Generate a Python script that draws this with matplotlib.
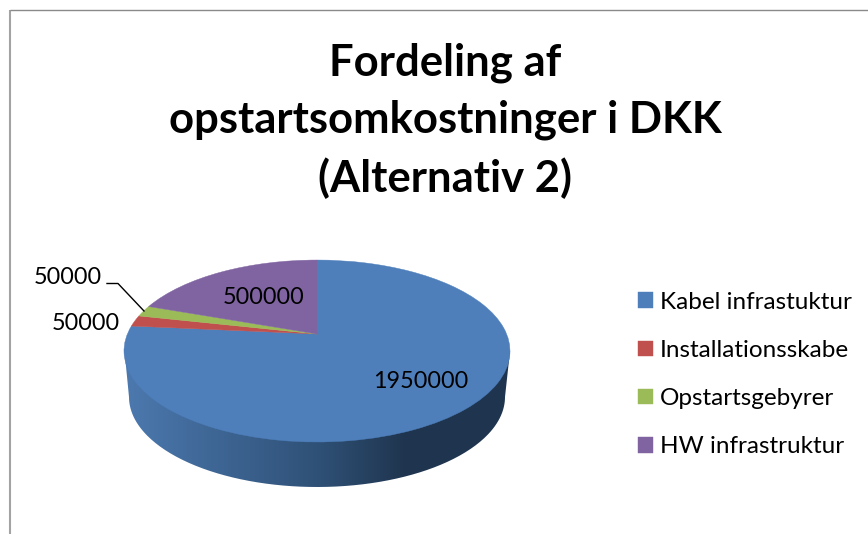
import numpy as np
import matplotlib
matplotlib.use("Agg")
import matplotlib.pyplot as plt
from matplotlib.colors import LinearSegmentedColormap
from matplotlib.path import Path
from matplotlib.transforms import Transform

categories = ["Kabel infrastuktur", "Installationsskabe", "Opstartsgebyrer", "HW infrastruktur"]
values = [1950000, 50000, 50000, 500000]
colors = ["#4E7FBB", "#C0504D", "#9BBB59", "#8064A2"]
title = "Fordeling af\nopstartsomkostninger i DKK\n(Alternativ 2)"

plt.rcParams["font.family"] = ["Lato", "DejaVu Sans"]
W, H = 868, 534
fig = plt.figure(figsize=(W / 100, H / 100), dpi=100, facecolor="white")
ax = fig.add_axes([0, 0, 1, 1])


class PiePerspective(Transform):
    """Tilts the unit pie: nearer edge lower and larger than the far edge."""
    input_dims = output_dims = 2
    is_separable = False
    has_inverse = False
    k, a, b, cx, cy = 0.187, 189.6, 87.8, 317.0, 334.0

    def transform_non_affine(self, xy):
        xy = np.asarray(xy, dtype=float)
        w = 1 + self.k * xy[:, 1]
        return np.column_stack((self.cx + self.a * xy[:, 0] / w,
                                self.cy - self.b * xy[:, 1] / w))


wedges, _ = ax.pie(values, colors=colors, startangle=90, counterclock=False, frame=True,
                   wedgeprops=dict(linewidth=0.3))
ax.set_aspect("auto")
for w in wedges:
    w.set_edgecolor(w.get_facecolor())
    w.set_transform(PiePerspective() + ax.transData)

# side wall of the pie with its horizontal shading
t = np.linspace(np.pi, 0, 200)
wall = np.vstack(([[124.5, 351], [129, 397]],
                  np.column_stack((317 + 188 * np.cos(t), 397 + 90 * np.sin(t))),
                  [[510, 351], [124.5, 351]]))
cmap = LinearSegmentedColormap.from_list("wall", [(0, "#4C79AF"), (0.5, "#2F5177"),
                                                  (0.72, "#203650"), (1, "#1F344E")])
im = ax.imshow(np.linspace(0, 1, 256)[None, :], cmap=cmap, aspect="auto",
               extent=(124, 511, 488, 350), zorder=0, interpolation="bilinear")
im.set_clip_path(Path(wall), transform=ax.transData)

ax.set_xlim(0, W)
ax.set_ylim(H, 0)
ax.axis("off")

# chart border
ax.plot([10, 10], [534, 9.5], color="#A3A3A3", lw=1.5, solid_capstyle="butt", zorder=3)
ax.plot([10, 868], [9.5, 9.5], color="#8A8A8A", lw=1, solid_capstyle="butt", zorder=3)

ax.text(445.5, 121, title, ha="center", va="center", fontsize=31.4, fontweight="bold",
        color="black", linespacing=1.5)

# data labels
label_pos = [(420.5, 382), (86, 324), (68, 277), (263.5, 298)]
for v, (x, y) in zip(values, label_pos):
    ax.text(x, y, str(v), ha="center", va="center", fontsize=16.8, color="black")
ax.plot([107, 118, 144], [283.5, 283.5, 311], color="black", lw=1, zorder=3)

fs = 17.45
fs_px = fs * 100 / 72
leg = ax.legend(wedges, categories, loc="center left", bbox_to_anchor=(638 / W, 1 - 374.5 / H),
                bbox_transform=fig.transFigure, frameon=False, fontsize=fs,
                handlelength=15 / fs_px, handleheight=15 / fs_px, handletextpad=7 / fs_px,
                labelspacing=1.12, borderpad=0, borderaxespad=0)

fig.savefig("out.png", dpi=100, facecolor="white")
